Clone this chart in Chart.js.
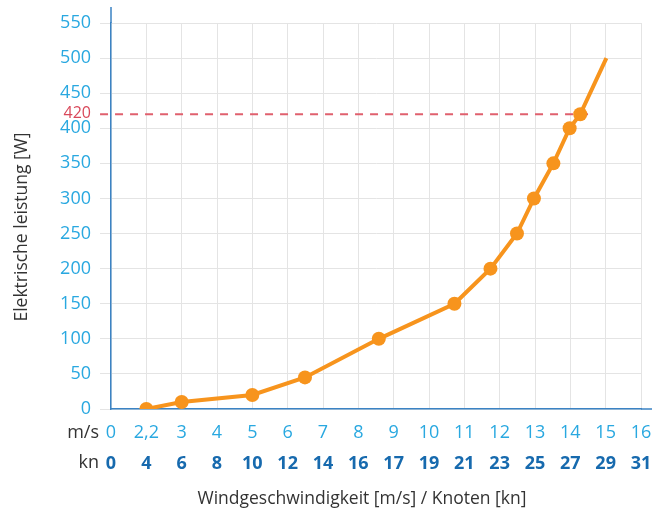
<!DOCTYPE html>
<html lang="de">
<head>
<meta charset="UTF-8">
<title>Elektrische Leistung nach Windgeschwindigkeit</title>
<script src="https://cdn.jsdelivr.net/npm/chart.js@4.4.1/dist/chart.umd.min.js"></script>
<style>
  html, body { margin: 0; padding: 0; background: #fff; }
  canvas { display: block; }
</style>
</head>
<body>
<canvas id="chart" width="654" height="515"></canvas>
<script>
// tick labels of the two x rows (the ticks are evenly spaced, not linear in m/s)
const speedTicks = ['0', '2,2', '3', '4', '5', '6', '7', '8', '9', '10', '11', '12', '13', '14', '15', '16'];
const knotTicks = ['0', '4', '6', '8', '10', '12', '14', '16', '17', '19', '21', '23', '25', '27', '29', '31'];

// measured curve: position on the tick row (0 = first tick) and power in W
const speedPos = [1, 2, 4, 5.49, 7.58, 9.72, 10.74, 11.49, 11.97, 12.52, 12.98, 13.28, 14.02];
const powerW = [0, 10, 20, 45, 100, 150, 200, 250, 300, 350, 400, 420, 500];

// 420 W reference line and how far it runs along the tick row
const refLevel = 420;
const refStart = -0.31;
const refEnd = 13.51;

const FONT = "'Open Sans', 'DejaVu Sans', sans-serif";
const ORANGE = '#f7941d';
const LIGHT_BLUE = '#29a8e0';
const DARK_BLUE = '#176aae';
const AXIS_BLUE = '#3b83c4';
const GRID = '#e4e4e4';
const MS_PAD = 13;
const KN_PAD = 0;

// row names, axis titles, the 420 label and the axis lines that run past the grid
const extras = {
  id: 'extras',
  afterDraw(chart) {
    const { ctx, chartArea, scales } = chart;
    ctx.save();
    ctx.strokeStyle = AXIS_BLUE;
    ctx.lineWidth = 1.5;
    ctx.beginPath();
    ctx.moveTo(chartArea.left, chartArea.top);
    ctx.lineTo(chartArea.left, chartArea.top - 16);
    ctx.moveTo(chartArea.right, chartArea.bottom);
    ctx.lineTo(chartArea.right + 11, chartArea.bottom);
    ctx.stroke();

    ctx.fillStyle = '#333';
    ctx.font = '18px ' + FONT;
    ctx.textAlign = 'right';
    ctx.textBaseline = 'middle';
    ctx.fillText('m/s', chartArea.left - 12, scales.x.top + MS_PAD + 10.8);
    ctx.fillText('kn', chartArea.left - 12, scales.x2.top + 18);

    ctx.fillStyle = '#d9485a';
    ctx.font = '16px ' + FONT;
    ctx.fillText(String(refLevel), chartArea.left - 20, scales.y.getPixelForValue(refLevel) - 1);

    ctx.fillStyle = '#333';
    ctx.font = '17.5px ' + FONT;
    ctx.textAlign = 'center';
    ctx.fillText('Windgeschwindigkeit [m/s] / Knoten [kn]', 362, chart.height - 16);
    ctx.translate(22, (chartArea.top + chartArea.bottom) / 2 + 11);
    ctx.rotate(-Math.PI / 2);
    ctx.fillText('Elektrische leistung [W]', 0, 0);
    ctx.restore();
  }
};

const noSidePad = s => { s.paddingLeft = 0; s.paddingRight = 0; };

new Chart(document.getElementById('chart'), {
  type: 'line',
  data: {
    datasets: [{
      data: speedPos.map((x, i) => ({ x: x, y: powerW[i] })),
      borderColor: ORANGE,
      backgroundColor: ORANGE,
      borderWidth: 4,
      pointRadius: speedPos.map((x, i) => i === speedPos.length - 1 ? 0 : 7),
      pointBorderWidth: 0,
      tension: 0,
      order: 1
    }, {
      data: [{ x: refStart, y: refLevel }, { x: refEnd, y: refLevel }],
      borderColor: '#e0606e',
      borderWidth: 2,
      borderDash: [8, 7],
      pointRadius: 0,
      clip: false,
      order: 2
    }]
  },
  options: {
    responsive: false,
    animation: false,
    layout: { padding: { top: 23, right: 13, bottom: 0, left: 0 } },
    plugins: { legend: { display: false }, tooltip: { enabled: false } },
    scales: {
      x: {
        type: 'linear',
        position: 'bottom',
        weight: 0,
        min: 0,
        max: 15,
        ticks: {
          stepSize: 1,
          includeBounds: false,
          autoSkip: false,
          maxRotation: 0,
          padding: MS_PAD,
          color: LIGHT_BLUE,
          font: { family: FONT, size: 18 },
          callback: v => speedTicks[v]
        },
        grid: { color: GRID, drawTicks: false },
        border: { color: AXIS_BLUE, width: 1.5 },
        afterFit: s => { s.height = 36; noSidePad(s); }
      },
      x2: {
        type: 'linear',
        position: 'bottom',
        weight: 1,
        min: 0,
        max: 15,
        ticks: {
          stepSize: 1,
          includeBounds: false,
          autoSkip: false,
          maxRotation: 0,
          padding: KN_PAD,
          color: DARK_BLUE,
          font: { family: FONT, size: 18, weight: 'bold' },
          callback: v => knotTicks[v]
        },
        grid: { display: false },
        border: { display: false },
        afterFit: s => { s.height = 70; noSidePad(s); }
      },
      y: {
        min: 0,
        max: 550,
        ticks: {
          stepSize: 50,
          padding: 9,
          color: LIGHT_BLUE,
          font: { family: FONT, size: 18 }
        },
        grid: { color: GRID, tickLength: 11 },
        border: { color: AXIS_BLUE, width: 1.5 },
        afterFit: s => { s.width = 111; }
      }
    }
  },
  plugins: [extras]
});
</script>
</body>
</html>
